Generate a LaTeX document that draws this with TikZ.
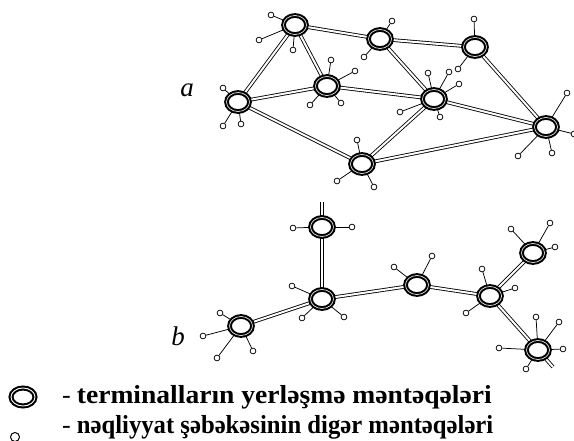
\documentclass[tikz,border=0pt]{standalone}
\usepackage{fontspec}
\usepackage{graphicx}
\setmainfont{Liberation Serif}
\usetikzlibrary{shapes.geometric,backgrounds}
\tikzset{
  term/.style={ellipse, draw, line width=2.05pt, double=white, double distance=0.6pt, fill=white, minimum width=23pt, minimum height=19pt, inner sep=0pt},
  sm/.style={circle, draw, line width=0.75pt, fill=white, minimum size=5.8pt, inner sep=0pt},
  stub/.style={line width=0.75pt},
  link/.style={line width=0.85pt, double=white, double distance=2pt},
  lbl/.style={font=\fontsize{27}{30}\selectfont\itshape, inner sep=0pt},
  legtext/.style={font=\fontsize{26}{30}\selectfont, anchor=base west, inner sep=0pt},
}
\begin{document}
\begin{tikzpicture}[x=1pt,y=-1pt]
\useasboundingbox (0,0) rectangle (574,441);
% network a
\node[term] (A1) at (295,25) {};
\node[term] (A2) at (380,39) {};
\node[term] (A3) at (475,47) {};
\node[term] (A4) at (238,102) {};
\node[term] (A5) at (327,86) {};
\node[term] (A6) at (434,99) {};
\node[term] (A7) at (546,127) {};
\node[term] (A8) at (362,164) {};
% network b
\node[term] (B1) at (322,227) {};
\node[term] (B2) at (322,299) {};
\node[term] (B3) at (241,326) {};
\node[term] (B4) at (417,285) {};
\node[term] (B5) at (490,296) {};
\node[term] (B6) at (533,253) {};
\node[term] (B7) at (538,350) {};
\coordinate (B1top) at (322,202);
\coordinate (B7end) at (553,367);
\begin{pgfonlayer}{background}
\foreach \u/\v in {A1/A2,A1/A4,A1/A5,A2/A3,A2/A6,A3/A7,A4/A5,A4/A8,A5/A6,A6/A7,A6/A8,A8/A7,
  B1/B2,B2/B3,B2/B4,B4/B5,B5/B6,B5/B7}
  \draw[link] (\u.center) -- (\v.center);
\draw[link] (B1top) -- (B1.center);
\draw[link] (B7.center) -- (B7end);
\end{pgfonlayer}
% stubs
\foreach \p/\x/\y [count=\i] in {
  A1/271/15, A1/259/40, A1/293/50,
  A2/392/21, A2/364/57,
  A3/474/19, A3/458/69,
  A4/223/88, A4/223/126, A4/241/124,
  A5/331/60, A5/355/71, A5/310/105, A5/341/103,
  A6/428/73, A6/449/72, A6/459/84, A6/400/112, A6/440/117,
  A7/567/93, A7/574/134, A7/552/153, A7/518/156,
  A8/357/140, A8/337/181, A8/374/187,
  B1/293/228, B1/352/227,
  B2/292/286, B2/302/318, B2/344/317,
  B3/220/313, B3/203/336, B3/217/358, B3/253/351,
  B4/394/267, B4/432/256,
  B5/482/269, B5/515/288, B5/466/313,
  B6/511/229, B6/550/223, B6/555/247,
  B7/536/317, B7/559/322, B7/499/348, B7/563/349, B7/526/369}
{
  \node[sm] (s\i) at (\x,\y) {};
  \draw[stub] (\p) -- (s\i);
}
% labels
\node[lbl] (la) at (187,90) {a};
\node[lbl] (lb) at (178,336) {b};
% legend
\node[term, minimum width=24pt, minimum height=18pt, double distance=0.9pt] (L1) at (23,397) {};
\node[sm, minimum size=9pt, line width=1pt] (L2) at (15,437) {};
\node[legtext] (T1) at (62,403) {-\hspace{6pt}\scalebox{1.06}[1]{\textbf{terminalların yerləşmə məntəqələri}}};
\node[legtext] (T2) at (62,433) {-\hspace{6pt}\scalebox{0.95}[1]{\textbf{nəqliyyat şəbəkəsinin digər məntəqələri}}};
\end{tikzpicture}
\end{document}
